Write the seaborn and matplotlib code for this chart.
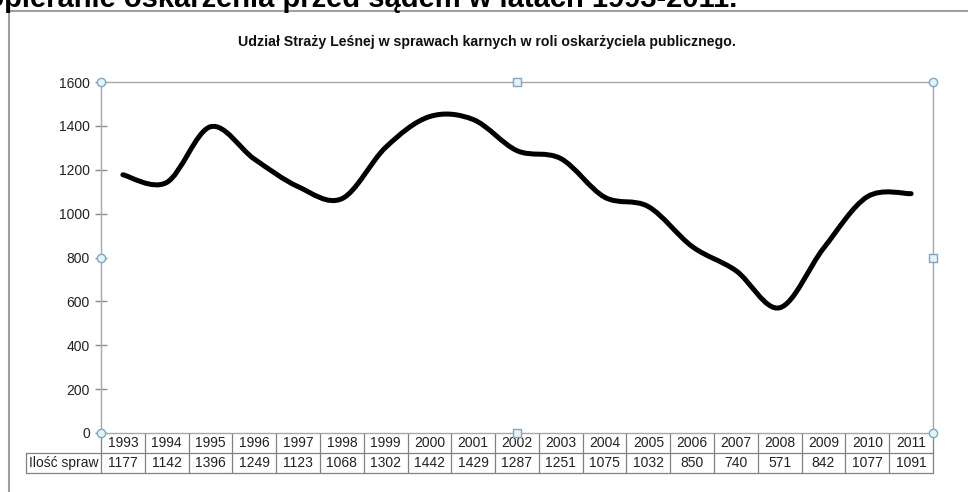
import numpy as np
import matplotlib
matplotlib.use("Agg")
import matplotlib.pyplot as plt
import seaborn as sns
from matplotlib.path import Path
from matplotlib.patches import PathPatch
from matplotlib.lines import Line2D

years = ["1993", "1994", "1995", "1996", "1997", "1998", "1999", "2000", "2001", "2002",
         "2003", "2004", "2005", "2006", "2007", "2008", "2009", "2010", "2011"]
cases = [1177, 1142, 1396, 1249, 1123, 1068, 1302, 1442, 1429, 1287,
         1251, 1075, 1032, 850, 740, 571, 842, 1077, 1091]
row_label = "Ilość spraw"
y_ticks = [0, 200, 400, 600, 800, 1000, 1200, 1400, 1600]
title = "Udział Straży Leśnej w sprawach karnych w roli oskarżyciela publicznego."
heading = "Popieranie oskarżenia przed sądem w latach 1993-2011."

sns.set_theme(style="white")
plt.rcParams["font.family"] = ["Liberation Sans", "DejaVu Sans"]

W, H = 968, 492
fig = plt.figure(figsize=(W / 100, H / 100), dpi=100)
ax = fig.add_axes([101 / W, 59 / H, 832 / W, 351 / H])

# smoothed line like Excel (Catmull-Rom as cubic Bezier)
n = len(cases)
pts = np.column_stack([np.arange(n, dtype=float), np.array(cases, dtype=float)])
ext = np.vstack([pts[0], pts, pts[-1]])
verts = [pts[0]]
codes = [Path.MOVETO]
for i in range(n - 1):
    p0, p1, p2, p3 = ext[i], ext[i + 1], ext[i + 2], ext[i + 3]
    verts += [p1 + (p2 - p0) / 6, p2 - (p3 - p1) / 6, p2]
    codes += [Path.CURVE4] * 3
ax.add_patch(PathPatch(Path(verts, codes), fill=False, lw=3.6, edgecolor="black",
                       capstyle="round", joinstyle="round", zorder=3))

ax.set_xlim(-0.5, n - 0.5)
ax.set_ylim(0, 1600)
ax.set_xticks([])
ax.set_yticks(y_ticks)
ax.tick_params(axis="y", direction="inout", length=8, width=1, color="#8c8c8c",
               labelsize=10, labelcolor="#222222", pad=4, left=True)
for s in ax.spines.values():
    s.set_color("#a8a8a8")
    s.set_linewidth(1)
ax.grid(False)

# selection handles of the plot area
hfc, hec = "#e4f2fb", "#7fa6c2"
for (hx, hy, m) in [(0, 0, "o"), (0, 0.5, "o"), (0, 1, "o"), (1, 0, "o"), (1, 1, "o"),
                    (0.5, 1, "s"), (0.5, 0, "s"), (1, 0.5, "s")]:
    ax.plot(hx, hy, marker=m, ms=6, mfc=hfc, mec=hec, mew=1, transform=ax.transAxes,
            clip_on=False, zorder=6)

# data table under the axes
rh = 20 / 351
lx = (26 - 101) / 832
lc = "#808080"
tt = ax.transAxes
for k in range(n + 1):
    ax.add_line(Line2D([k / n, k / n], [0, -2 * rh], color=lc, lw=0.9, transform=tt, clip_on=False))
ax.add_line(Line2D([lx, lx], [-rh, -2 * rh], color=lc, lw=0.9, transform=tt, clip_on=False))
for yy in (-rh, -2 * rh):
    ax.add_line(Line2D([lx, 1], [yy, yy], color=lc, lw=0.9, transform=tt, clip_on=False))
for i, (yr, v) in enumerate(zip(years, cases)):
    ax.text((i + 0.5) / n, -0.5 * rh, yr, ha="center", va="center", fontsize=10,
            color="#222222", transform=tt)
    ax.text((i + 0.5) / n, -1.5 * rh, str(v), ha="center", va="center", fontsize=10,
            color="#222222", transform=tt)
ax.text(lx / 2, -1.5 * rh, row_label, ha="center", va="center", fontsize=10,
        color="#222222", transform=tt)

# chart title
fig.text(487 / W, 1 - 42 / H, title, ha="center", va="center", fontsize=10.2,
         fontweight="bold", color="#111111")

# document heading above the chart frame, cut off by the screenshot edge
fig.text(737 / W, 1 - 7 / H, heading, ha="right", va="baseline", fontsize=21,
         fontweight="bold", color="black")

# outer chart frame
fig.add_artist(Line2D([9 / W, 9 / W], [0, 1 - 11 / H], color="#a0a0a0", lw=1.5))
fig.add_artist(Line2D([9 / W, 1], [1 - 11 / H, 1 - 11 / H], color="#a0a0a0", lw=1.5))

fig.savefig("out.png", dpi=100)
